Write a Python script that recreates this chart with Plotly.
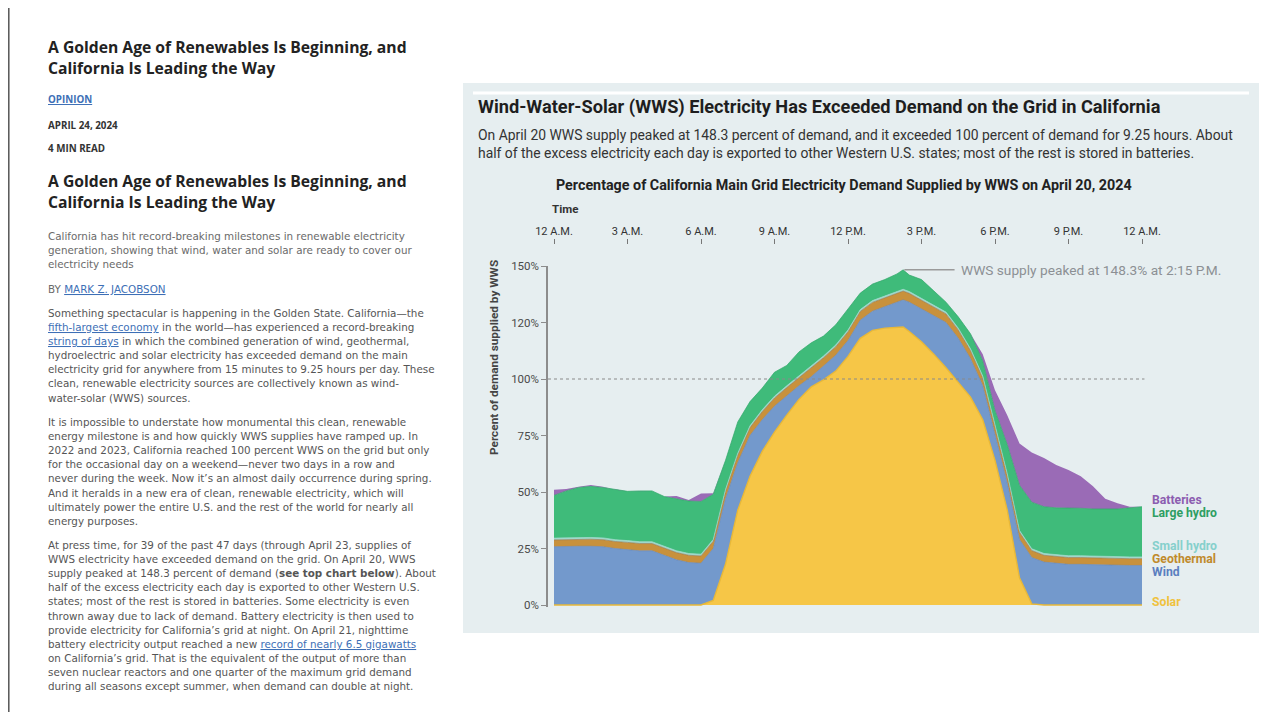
import plotly.graph_objects as go

# ---------------- data (percent of demand, stacked layers) ----------------
hours = [0, 0.5, 1, 1.5, 2, 2.5, 3, 3.5, 4, 4.5, 5, 5.5, 6, 6.5, 7, 7.5, 8, 8.5, 9, 9.5,
         10, 10.5, 11, 11.5, 12, 12.5, 13, 13.5, 14, 14.25, 14.5, 15, 15.5, 16, 16.5, 17, 17.5,
         18, 18.5, 19, 19.5, 20, 20.5, 21, 21.5, 22, 22.5, 23, 23.5, 24]

solar = [0, 0, 0, 0, 0, 0, 0, 0, 0, 0, 0, 0, 0, 2, 18, 42, 57, 68, 76.5, 84,
         91, 96.5, 99.6, 103.5, 110, 118, 121.5, 122.5, 123, 123, 121, 116.5, 111, 105, 98.5, 92, 82,
         64, 42, 12, 0.5, 0, 0, 0, 0, 0, 0, 0, 0, 0]

wind = [25.8, 26, 26, 26, 25.8, 25, 24.5, 24, 24, 22, 20, 18.8, 18.5, 23, 29, 21, 18, 14, 11.5, 8.5,
        6, 4.5, 6, 7, 7, 8, 8.5, 9.5, 11, 12, 13, 14.5, 17, 20, 19.5, 17, 15,
        12, 12, 17, 20.5, 19, 18.5, 18, 18, 17.8, 17.7, 17.6, 17.5, 17.5]

geothermal = [3.0, 3.0, 3.1, 3.1, 3.1, 3.1, 3.2, 3.2, 3.2, 3.2, 3.2, 3.2, 3.2, 3.2, 3.3, 3.4, 3.5, 3.6, 3.6, 3.7,
              3.7, 3.8, 3.8, 3.8, 3.9, 3.9, 3.9, 3.9, 3.9, 3.9, 3.9, 3.9, 3.8, 3.8, 3.7, 3.6, 3.5,
              3.4, 3.3, 3.2, 3.1, 3.0, 3.0, 3.0, 3.0, 3.0, 3.0, 3.0, 3.0, 3.0]

small_hydro = [0.8, 0.8, 0.8, 0.8, 0.8, 0.8, 0.8, 0.8, 0.8, 0.8, 0.8, 0.8, 0.8, 0.8, 0.8, 0.8, 0.8, 0.8, 0.8, 0.8,
               0.8, 0.8, 0.8, 0.8, 0.8, 0.8, 0.8, 0.8, 0.8, 0.8, 0.8, 0.8, 0.8, 0.8, 0.8, 0.8, 0.8,
               0.8, 0.8, 0.8, 0.8, 0.8, 0.8, 0.8, 0.8, 0.8, 0.8, 0.8, 0.8, 0.8]

large_hydro = [18.9, 20.7, 22.1, 22.6, 22.3, 22.1, 21.8, 22.5, 22.5, 22.0, 23.0, 23.2, 23.3, 20.0, 12.9, 13.8, 10.7, 9.6, 10.6, 9.0,
               10.5, 10.4, 8.8, 8.9, 9.3, 7.3, 7.3, 7.3, 7.8, 8.6, 7.3, 8.3, 6.4, 4.4, 5.0, 6.6, 6.7,
               5.8, 12.9, 20.0, 20.6, 20.7, 20.7, 21.2, 21.0, 20.9, 21.0, 21.1, 21.7, 22.2]

batteries = [2.5, 0.8, 0.3, 0.6, 0.3, 0, 0, 0, 0, 0, 1.2, 0.5, 3.5, 0.5, 0, 0, 0, 0, 0, 0,
             0, 0, 0, 0, 0, 0, 0, 0, 0, 0, 0, 0, 0, 0, 0, 0, 3,
             9, 13, 18.5, 22, 21.5, 19, 16.7, 14.2, 10, 4.5, 2.5, 0.5, 0]

time_ticks = [0, 3, 6, 9, 12, 15, 18, 21, 24]
time_labels = ["12 A.M.", "3 A.M.", "6 A.M.", "9 A.M.", "12 P.M.", "3 P.M.", "6 P.M.", "9 P.M.", "12 A.M."]
pct_ticks = [0, 25, 50, 75, 100, 125, 150]
pct_labels = ["0%", "25%", "50%", "75%", "100%", "120%", "150%"]

series = [
    ("Solar", solar, "#f6c647", "#e8b838"),
    ("Wind", wind, "#7399cc", "#6688bb"),
    ("Geothermal", geothermal, "#c8913c", "#9a7a55"),
    ("Small hydro", small_hydro, "#9fd9cc", "#9fd9cc"),
    ("Large hydro", large_hydro, "#3fbb7a", "#32a86a"),
    ("Batteries", batteries, "#9a6bb6", "#9a6bb6"),
]

legend_labels = [("Batteries", "#8c5db0", 500), ("Large hydro", "#2e9e63", 513),
                 ("Small hydro", "#86d0cc", 546), ("Geothermal", "#c08a2c", 559),
                 ("Wind", "#5b7fc0", 572), ("Solar", "#f0c23e", 602)]

# the page body has an 8px margin: size the figure so the page fits the 1280x720 window
OFF = 8
W, H = 1280 - 2 * OFF, 720 - 2 * OFF
def px(x): return (x - OFF) / W          # screen x -> paper
def py(y): return 1 - (y - OFF) / H      # screen y -> paper

FONT = "Roboto"
BODY = "DejaVu Sans"
HEAD = "Open Sans"

fig = go.Figure()
for name, vals, fill, line in series:
    fig.add_trace(go.Scatter(
        x=hours, y=vals, name=name, mode="lines", stackgroup="one",
        fillcolor=fill,
        line=dict(color=line, width=0 if name == "Batteries" else (1.4 if name == "Solar" else 0.7)),
        hoverinfo="x+y+name", showlegend=False))

shapes = []
annotations = []

# chart panel
shapes.append(dict(type="rect", xref="paper", yref="paper", x0=px(463), x1=px(1259), y0=py(633), y1=py(83),
                   fillcolor="#e6eef0", line=dict(width=0), layer="below"))
shapes.append(dict(type="line", xref="paper", yref="paper", x0=px(473), x1=px(1249), y0=py(93), y1=py(93),
                   line=dict(color="#ffffff", width=3), layer="below"))
# left page border
shapes.append(dict(type="line", xref="paper", yref="paper", x0=px(8.8), x1=px(8.8), y0=0, y1=1,
                   line=dict(color="#555555", width=1.5)))

# 100% reference line
shapes.append(dict(type="line", xref="x", yref="y", x0=-6 / 24.5, x1=24.1, y0=100, y1=100,
                   line=dict(color="#8a8a8a", width=1.2, dash="dot"), layer="above"))

# peak callout
totals = [sum(v) for v in zip(solar, wind, geothermal, small_hydro, large_hydro, batteries)]
ip = max(range(len(totals)), key=lambda i: totals[i])
peak_h, peak_v = hours[ip], totals[ip]
shapes.append(dict(type="line", xref="x", yref="y", x0=peak_h + 0.05, x1=peak_h + 2.1, y0=peak_v, y1=peak_v,
                   line=dict(color="#9a9a9a", width=1.5)))
annotations.append(dict(xref="x", yref="y", x=peak_h + 2.3, y=peak_v, xanchor="left", yanchor="middle",
                        text="WWS supply peaked at 148.3% at 2:15 P.M.", showarrow=False,
                        font=dict(family=FONT, size=13.7, color="#8c9094")))

def txt(x, y, text, size, color, family=FONT, xanchor="left", angle=0):
    annotations.append(dict(xref="paper", yref="paper", x=px(x), y=py(y), xanchor=xanchor, yanchor="middle",
                            text=text, showarrow=False, textangle=angle,
                            font=dict(family=family, size=size, color=color)))

# chart texts
txt(476, 107, "<b>Wind-Water-Solar (WWS) Electricity Has Exceeded Demand on the Grid in California</b>", 18.2, "#1e1e1e")
txt(476, 135, "On April 20 WWS supply peaked at 148.3 percent of demand, and it exceeded 100 percent of demand for 9.25 hours. About", 13.9, "#333333")
txt(476, 153, "half of the excess electricity each day is exported to other Western U.S. states; most of the rest is stored in batteries.", 13.9, "#333333")
txt(554, 185, "<b>Percentage of California Main Grid Electricity Demand Supplied by WWS on April 20, 2024</b>", 14.3, "#222222")
txt(550, 209, "<b>Time</b>", 11.5, "#333333")
txt(494, 358, "<b>Percent of demand supplied by WWS</b>", 11.8, "#444444", angle=-90, xanchor="center")
for lab, col, yy in legend_labels:
    txt(1150, yy, "<b>" + lab + "</b>", 12.2, col)

# article (left column)
LINK = "#3d6fb6"
def link(s):
    return '<span style="color:%s"><u>%s</u></span>' % (LINK, s)

headline = ["A Golden Age of Renewables Is Beginning, and", "California Is Leading the Way"]
for i, line in enumerate(headline):
    txt(46, 47 + 21 * i, "<b>" + line + "</b>", 15.7, "#222222", HEAD)
    txt(46, 181 + 21 * i, "<b>" + line + "</b>", 15.7, "#222222", HEAD)
txt(46, 100, "<b>" + link("OPINION") + "</b>", 9.8, LINK, HEAD)
txt(46, 125, "<b>APRIL 24, 2024</b>", 9.8, "#333333", HEAD)
txt(46, 148, "<b>4 MIN READ</b>", 9.8, "#333333", HEAD)

dek = ["California has hit record-breaking milestones in renewable electricity",
       "generation, showing that wind, water and solar are ready to cover our",
       "electricity needs"]
for i, line in enumerate(dek):
    txt(46, 236 + 14 * i, line, 10.35, "#6a6a6a", BODY)
txt(46, 289, "BY " + link("MARK Z. JACOBSON"), 10.35, "#6a6a6a", BODY)

para2 = ["Something spectacular is happening in the Golden State. California\u2014the",
         link("fifth-largest economy") + " in the world\u2014has experienced a record-breaking",
         link("string of days") + " in which the combined generation of wind, geothermal,",
         "hydroelectric and solar electricity has exceeded demand on the main",
         "electricity grid for anywhere from 15 minutes to 9.25 hours per day. These",
         "clean, renewable electricity sources are collectively known as wind-",
         "water-solar (WWS) sources."]
para3 = ["It is impossible to understate how monumental this clean, renewable",
         "energy milestone is and how quickly WWS supplies have ramped up. In",
         "2022 and 2023, California reached 100 percent WWS on the grid but only",
         "for the occasional day on a weekend\u2014never two days in a row and",
         "never during the week. Now it\u2019s an almost daily occurrence during spring.",
         "And it heralds in a new era of clean, renewable electricity, which will",
         "ultimately power the entire U.S. and the rest of the world for nearly all",
         "energy purposes."]
para4 = ["At press time, for 39 of the past 47 days (through April 23, supplies of",
         "WWS electricity have exceeded demand on the grid. On April 20, WWS",
         "supply peaked at 148.3 percent of demand (<b>see top chart below</b>). About",
         "half of the excess electricity each day is exported to other Western U.S.",
         "states; most of the rest is stored in batteries. Some electricity is even",
         "thrown away due to lack of demand. Battery electricity is then used to",
         "provide electricity for California\u2019s grid at night. On April 21, nighttime",
         "battery electricity output reached a new " + link("record of nearly 6.5 gigawatts"),
         "on California\u2019s grid. That is the equivalent of the output of more than",
         "seven nuclear reactors and one quarter of the maximum grid demand",
         "during all seasons except summer, when demand can double at night."]
for start, para in ((313, para2), (422, para3), (545, para4)):
    for i, line in enumerate(para):
        txt(46, start + 14.1 * i, line, 10.35, "#555555", BODY)

fig.update_layout(
    width=W, height=H, margin=dict(l=0, r=0, t=0, b=0, pad=0, autoexpand=False),
    paper_bgcolor="#ffffff", plot_bgcolor="rgba(0,0,0,0)",
    showlegend=False, shapes=shapes, annotations=annotations,
    xaxis=dict(domain=[px(548), px(1146)], range=[-6 / 24.5, 24 + 4 / 24.5],
               anchor="free", position=py(244), side="top", automargin=False,
               tickvals=time_ticks, ticktext=time_labels, ticks="outside", ticklen=5,
               tickcolor="#777777", tickwidth=1, showline=False, showgrid=False, zeroline=False,
               tickfont=dict(family=FONT, size=11, color="#333333")),
    yaxis=dict(domain=[py(606.6), py(266)], range=[-0.7, 150], anchor="x", automargin=False,
               tickvals=pct_ticks, ticktext=pct_labels, ticks="outside", ticklen=5,
               tickcolor="#8c8c8c", showline=True, linecolor="#8c8c8c", linewidth=1.5,
               showgrid=False, zeroline=False,
               tickfont=dict(family=FONT, size=11.5, color="#4a4a4a")),
)

fig.write_html("out.html")
